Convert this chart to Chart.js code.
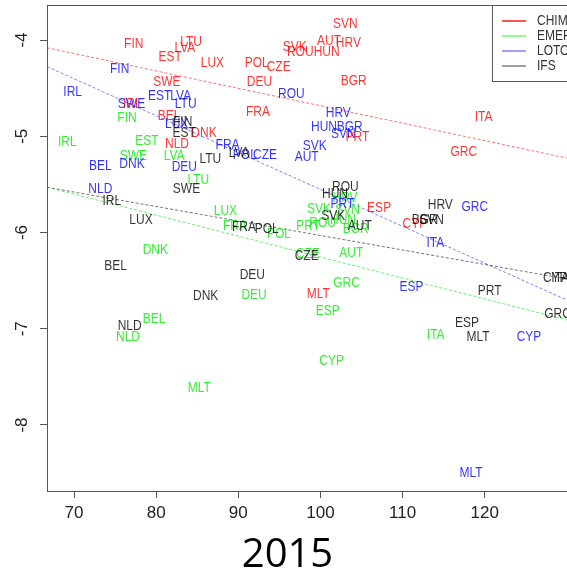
<!DOCTYPE html>
<html>
<head>
<meta charset="utf-8">
<script src="https://cdn.jsdelivr.net/npm/chart.js@4.4.1/dist/chart.umd.min.js"></script>
<style>
  body { margin: 0; overflow: hidden; background: #fff; }
</style>
</head>
<body>
<canvas id="plot" width="575" height="576"></canvas>
<script>
// country codes, same order in every series
const countries = ['AUT','BEL','BGR','CYP','CZE','DEU','DNK','ESP','EST','FIN','FRA','GRC','HRV','HUN','IRL','ITA','LTU','LUX','LVA','MLT','NLD','POL','PRT','ROU','SVK','SVN','SWE'];

const models = ['CHIMERE', 'EMEP', 'LOTOS-EUROS', 'IFS'];

const chimX = [101.05, 81.57, 104.05, 111.5, 94.92, 92.57, 85.83, 107.15, 81.7, 77.27, 92.4, 117.45, 103.4, 100.76, 77.1, 119.88, 84.25, 86.85, 83.5, 99.75, 82.54, 92.24, 104.5, 97.55, 96.87, 103.04, 81.3];
const chimY = [-4.007, -4.79, -4.43, -5.91, -4.277, -4.44, -4.97, -5.75, -4.18, -4.045, -4.745, -5.167, -4.035, -4.12, -4.66, -4.797, -4.017, -4.24, -4.087, -6.643, -5.08, -4.236, -5.005, -4.12, -4.07, -3.837, -4.44];

const emepX = [103.77, 79.74, 104.3, 101.37, 98.5, 91.92, 79.9, 100.89, 78.89, 76.45, 89.6, 103.19, 103.0, 102.75, 69.18, 114.04, 85.14, 88.43, 82.2, 85.26, 76.57, 94.96, 98.5, 100.28, 99.83, 103.3, 77.22];
const emepY = [-6.21, -6.9, -5.968, -7.334, -6.225, -6.65, -6.183, -6.817, -5.047, -4.81, -5.933, -6.53, -5.646, -5.87, -5.057, -7.066, -5.455, -5.774, -5.206, -7.614, -7.084, -6.017, -5.933, -5.9, -5.76, -5.767, -5.206];

const lotosX = [98.33, 73.2, 103.56, 125.4, 93.26, 83.43, 77.06, 111.1, 80.43, 75.56, 88.7, 118.8, 102.18, 100.44, 69.84, 114.0, 83.6, 82.5, 82.99, 118.34, 73.2, 90.8, 102.67, 96.46, 99.3, 102.8, 77.0];
const lotosY = [-5.213, -5.307, -4.907, -7.084, -5.2, -5.32, -5.29, -6.564, -4.58, -4.3, -5.09, -5.74, -4.756, -4.9, -4.544, -6.107, -4.67, -4.87, -4.58, -8.504, -5.55, -5.195, -5.7, -4.565, -5.1, -4.977, -4.66];

const ifsX = [104.8, 75.07, 112.7, 128.6, 98.33, 91.71, 86.03, 117.85, 83.4, 83.23, 90.7, 128.87, 114.6, 101.78, 74.6, 129.2, 86.6, 78.16, 90.1, 119.19, 76.78, 93.46, 120.6, 103.04, 101.57, 113.55, 83.7];
const ifsY = [-5.933, -6.346, -5.87, -6.47, -6.245, -6.443, -6.658, -6.945, -4.97, -4.85, -5.947, -6.848, -5.715, -5.6, -5.67, -6.47, -5.237, -5.87, -5.178, -7.084, -6.973, -5.965, -6.61, -5.525, -5.83, -5.87, -5.552];

// fitted lines (intercept, slope) per model
const fitIntercept = [-2.873, -4.076, -1.720, -4.526];
const fitSlope = [-0.0181, -0.02179, -0.03832, -0.01505];

const xTicks = [70, 80, 90, 100, 110, 120];
const yTicks = [-8, -7, -6, -5, -4];
const title = '2015';

const X_MIN = 66.71, X_MAX = 131.0;
const Y_MIN = -8.686, Y_MAX = -3.636;

const textColors = ['rgba(255,0,0,0.8)', 'rgba(0,235,0,0.8)', 'rgba(0,0,255,0.8)', 'rgba(0,0,0,0.8)'];
const lineColors = ['rgba(255,0,0,0.55)', 'rgba(0,230,0,0.6)', 'rgba(0,0,255,0.5)', 'rgba(0,0,0,0.55)'];
const legendColors = ['rgba(255,0,0,0.9)', 'rgba(0,255,0,0.6)', 'rgba(0,0,255,0.5)', 'rgba(0,0,0,0.5)'];

const seriesX = [chimX, emepX, lotosX, ifsX];
const seriesY = [chimY, emepY, lotosY, ifsY];

const datasets = [];
models.forEach((m, i) => {
    datasets.push({
        type: 'scatter',
        label: m,
        data: seriesX[i].map((x, j) => ({ x: x, y: seriesY[i][j] })),
        pointRadius: 0,
        textColor: textColors[i]
    });
});
models.forEach((m, i) => {
    datasets.push({
        type: 'line',
        label: m + ' fit',
        data: [X_MIN, X_MAX].map(x => ({ x: x, y: fitIntercept[i] + fitSlope[i] * x })),
        borderColor: lineColors[i],
        borderWidth: 1,
        borderDash: [3, 2],
        pointRadius: 0,
        fill: false
    });
});

const labelFont = '12px "Liberation Sans", Arial, sans-serif';
const stretch = 1.2; // the original picture is a bit taller than wide

function tallText(ctx, txt, x, y) {
    ctx.save();
    ctx.translate(x, y);
    ctx.scale(1, stretch);
    ctx.fillText(txt, 0, 0);
    ctx.restore();
}

const extras = {
    id: 'extras',
    afterDatasetsDraw(chart) {
        const ctx = chart.ctx;
        const a = chart.chartArea;
        ctx.save();
        ctx.beginPath();
        ctx.rect(a.left, a.top, a.right - a.left, a.bottom - a.top);
        ctx.clip();
        ctx.font = labelFont;
        ctx.textAlign = 'center';
        ctx.textBaseline = 'middle';
        // green, blue, red, then black on top
        [1, 2, 0, 3].forEach(i => {
            const meta = chart.getDatasetMeta(i);
            ctx.fillStyle = chart.data.datasets[i].textColor;
            meta.data.forEach((pt, j) => tallText(ctx, countries[j], pt.x, pt.y));
        });
        ctx.restore();

        // box around the plot
        ctx.save();
        ctx.strokeStyle = '#555';
        ctx.lineWidth = 1;
        ctx.strokeRect(a.left + 0.5, a.top + 0.5, a.right - a.left, a.bottom - a.top);

        // legend
        const lx = 492, ly = a.top, lh = 76;
        ctx.fillStyle = '#fff';
        ctx.fillRect(lx, ly, a.right - lx, lh);
        ctx.strokeStyle = '#555';
        ctx.strokeRect(lx + 0.5, ly + 0.5, a.right - lx, lh);
        ctx.font = labelFont;
        ctx.textAlign = 'left';
        ctx.textBaseline = 'middle';
        models.forEach((m, i) => {
            const y = ly + 16 + i * 15;
            ctx.strokeStyle = legendColors[i];
            ctx.lineWidth = 1.5;
            ctx.beginPath();
            ctx.moveTo(502, y);
            ctx.lineTo(526, y);
            ctx.stroke();
            ctx.fillStyle = '#333';
            tallText(ctx, m, 537, y);
        });

        // rotated y tick labels
        const ys = chart.scales.y;
        ctx.fillStyle = '#222';
        ctx.font = '17px "Liberation Sans", Arial, sans-serif';
        ctx.textAlign = 'center';
        ctx.textBaseline = 'middle';
        yTicks.forEach(v => {
            ctx.save();
            ctx.translate(22, ys.getPixelForValue(v));
            ctx.rotate(-Math.PI / 2);
            ctx.fillText(String(v), 0, 0);
            ctx.restore();
        });
        ctx.restore();
    }
};

new Chart(document.getElementById('plot').getContext('2d'), {
    data: { datasets: datasets },
    options: {
        responsive: false,
        animation: false,
        devicePixelRatio: 1,
        layout: { padding: { top: 5, left: 0, right: 0, bottom: 0 } },
        plugins: {
            legend: { display: false },
            tooltip: { enabled: false },
            title: {
                display: true,
                text: title,
                position: 'bottom',
                color: '#000',
                font: { family: '"Open Sans", sans-serif', size: 40, weight: 'normal', lineHeight: 1.0 },
                padding: { top: 12, bottom: 0 }
            }
        },
        scales: {
            x: {
                type: 'linear',
                min: X_MIN,
                max: X_MAX,
                afterBuildTicks: s => { s.ticks = xTicks.map(v => ({ value: v })); },
                afterFit: s => { s.height = 33; },
                grid: { drawOnChartArea: false, drawTicks: true, tickLength: 7, color: '#555' },
                border: { display: true, color: '#555' },
                ticks: { color: '#222', padding: 5, maxRotation: 0, font: { family: '"Liberation Sans", Arial, sans-serif', size: 17 }, callback: v => String(v) }
            },
            y: {
                type: 'linear',
                min: Y_MIN,
                max: Y_MAX,
                afterBuildTicks: s => { s.ticks = yTicks.map(v => ({ value: v })); },
                afterFit: s => { s.width = 47; },
                grid: { drawOnChartArea: false, drawTicks: true, tickLength: 7, color: '#555' },
                border: { display: true, color: '#555' },
                ticks: { display: false }
            }
        }
    },
    plugins: [extras]
});
</script>
</body>
</html>
